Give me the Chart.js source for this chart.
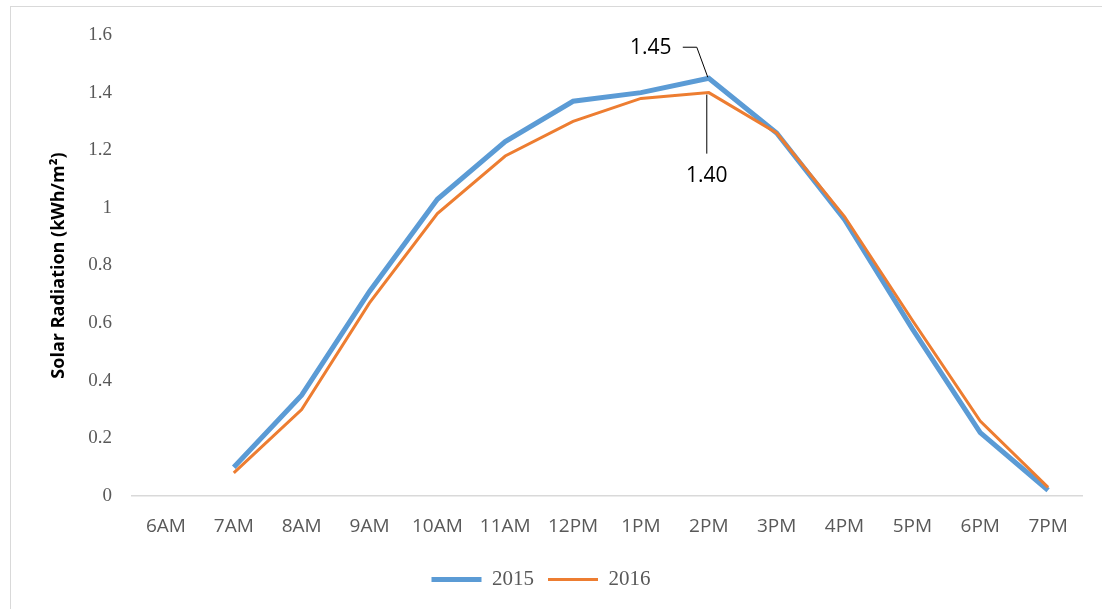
<!DOCTYPE html>
<html>
<head>
<meta charset="utf-8">
<script src="https://cdn.jsdelivr.net/npm/chart.js@4"></script>
<style>
  html, body { margin: 0; padding: 0; background: #fff; overflow: hidden; }
  #wrap { position: relative; width: 1102px; height: 609px; }
  #frame { position: absolute; left: 10px; top: 6px; width: 1200px; height: 700px; border: 1px solid #d9d9d9; }
  #myChart { position: absolute; left: 0; top: 0; }
</style>
</head>
<body>
<div id="wrap">
  <div id="frame"></div>
  <canvas id="myChart" width="1102" height="609"></canvas>
</div>
<script>
const hours = ['6AM', '7AM', '8AM', '9AM', '10AM', '11AM', '12PM', '1PM', '2PM', '3PM', '4PM', '5PM', '6PM', '7PM']
const y2015 = [null, 0.10, 0.35, 0.71, 1.03, 1.23, 1.37, 1.40, 1.45, 1.26, 0.96, 0.58, 0.22, 0.02]
const y2016 = [null, 0.08, 0.30, 0.67, 0.98, 1.18, 1.30, 1.38, 1.40, 1.26, 0.97, 0.61, 0.26, 0.03]
const yTicks = [0, 0.2, 0.4, 0.6, 0.8, 1, 1.2, 1.4, 1.6]
const peakIndex = 8

// call-out labels with leader lines at the 2PM peak
const callouts = {
  id: 'callouts',
  afterDatasetsDraw(chart) {
    const ctx = chart.ctx
    const x = chart.scales.x.getPixelForValue(peakIndex)
    const yA = chart.scales.y.getPixelForValue(y2015[peakIndex])
    const yB = chart.scales.y.getPixelForValue(y2016[peakIndex])
    ctx.save()
    ctx.strokeStyle = '#000'
    ctx.lineWidth = 1
    ctx.beginPath()
    ctx.moveTo(x - 26, yA - 31)
    ctx.lineTo(x - 12, yA - 31)
    ctx.lineTo(x - 1, yA - 1)
    ctx.moveTo(x - 2, yB + 2)
    ctx.lineTo(x - 2, yB + 61)
    ctx.stroke()
    ctx.fillStyle = '#000'
    ctx.font = '21px "Open Sans"'
    ctx.textAlign = 'center'
    ctx.textBaseline = 'middle'
    ctx.fillText(y2015[peakIndex].toFixed(2), x - 58, yA - 30)
    ctx.fillText(y2016[peakIndex].toFixed(2), x - 2, yB + 83)
    ctx.restore()
  }
}

const myChart = new Chart(
  document.getElementById('myChart'),
  {
    type: 'line',
    data: {
      labels: hours,
      datasets: [{
        label: '2015',
        data: y2015,
        borderColor: '#5b9bd5',
        backgroundColor: '#5b9bd5',
        borderWidth: 5,
        order: 1
      }, {
        label: '2016',
        data: y2016,
        borderColor: '#ed7d31',
        backgroundColor: '#ed7d31',
        borderWidth: 3,
        order: 0
      }]
    },
    options: {
      responsive: false,
      animation: false,
      layout: {
        padding: { left: 0, right: 20, top: 35, bottom: 9 }
      },
      elements: {
        line: { tension: 0 },
        point: { radius: 0, hoverRadius: 0 }
      },
      scales: {
        x: {
          offset: true,
          grid: { display: false, drawTicks: false, offset: true },
          border: { display: true, color: '#d9d9d9', width: 1.5 },
          ticks: {
            color: '#595959',
            font: { family: 'Open Sans', size: 19 },
            padding: 19,
            maxRotation: 0,
            autoSkip: false
          },
          afterFit(scale) { scale.height = 59 }
        },
        y: {
          min: 0,
          max: 1.6,
          afterBuildTicks(scale) { scale.ticks = yTicks.map(v => ({ value: v })) },
          grid: { display: false, drawTicks: false },
          border: { display: false },
          ticks: {
            color: '#595959',
            font: { family: 'Liberation Serif', size: 19 },
            padding: 20,
            callback: v => Number(v.toFixed(1)).toString()
          },
          title: {
            display: true,
            text: 'Solar Radiation (kWh/m²)',
            color: '#000',
            font: { family: 'Open Sans', size: 18, weight: 'bold' },
            padding: { top: 48, bottom: 0 }
          },
          afterFit(scale) { scale.width = 132 }
        }
      },
      plugins: {
        legend: {
          position: 'bottom',
          labels: {
            usePointStyle: true,
            pointStyle: 'line',
            pointStyleWidth: 50,
            boxHeight: 20,
            color: '#595959',
            font: { family: 'Liberation Serif', size: 21 },
            padding: 14,
            sort: (a, b) => a.datasetIndex - b.datasetIndex
          }
        },
        tooltip: { enabled: false }
      }
    },
    plugins: [callouts]
  }
);
</script>
</body>
</html>
